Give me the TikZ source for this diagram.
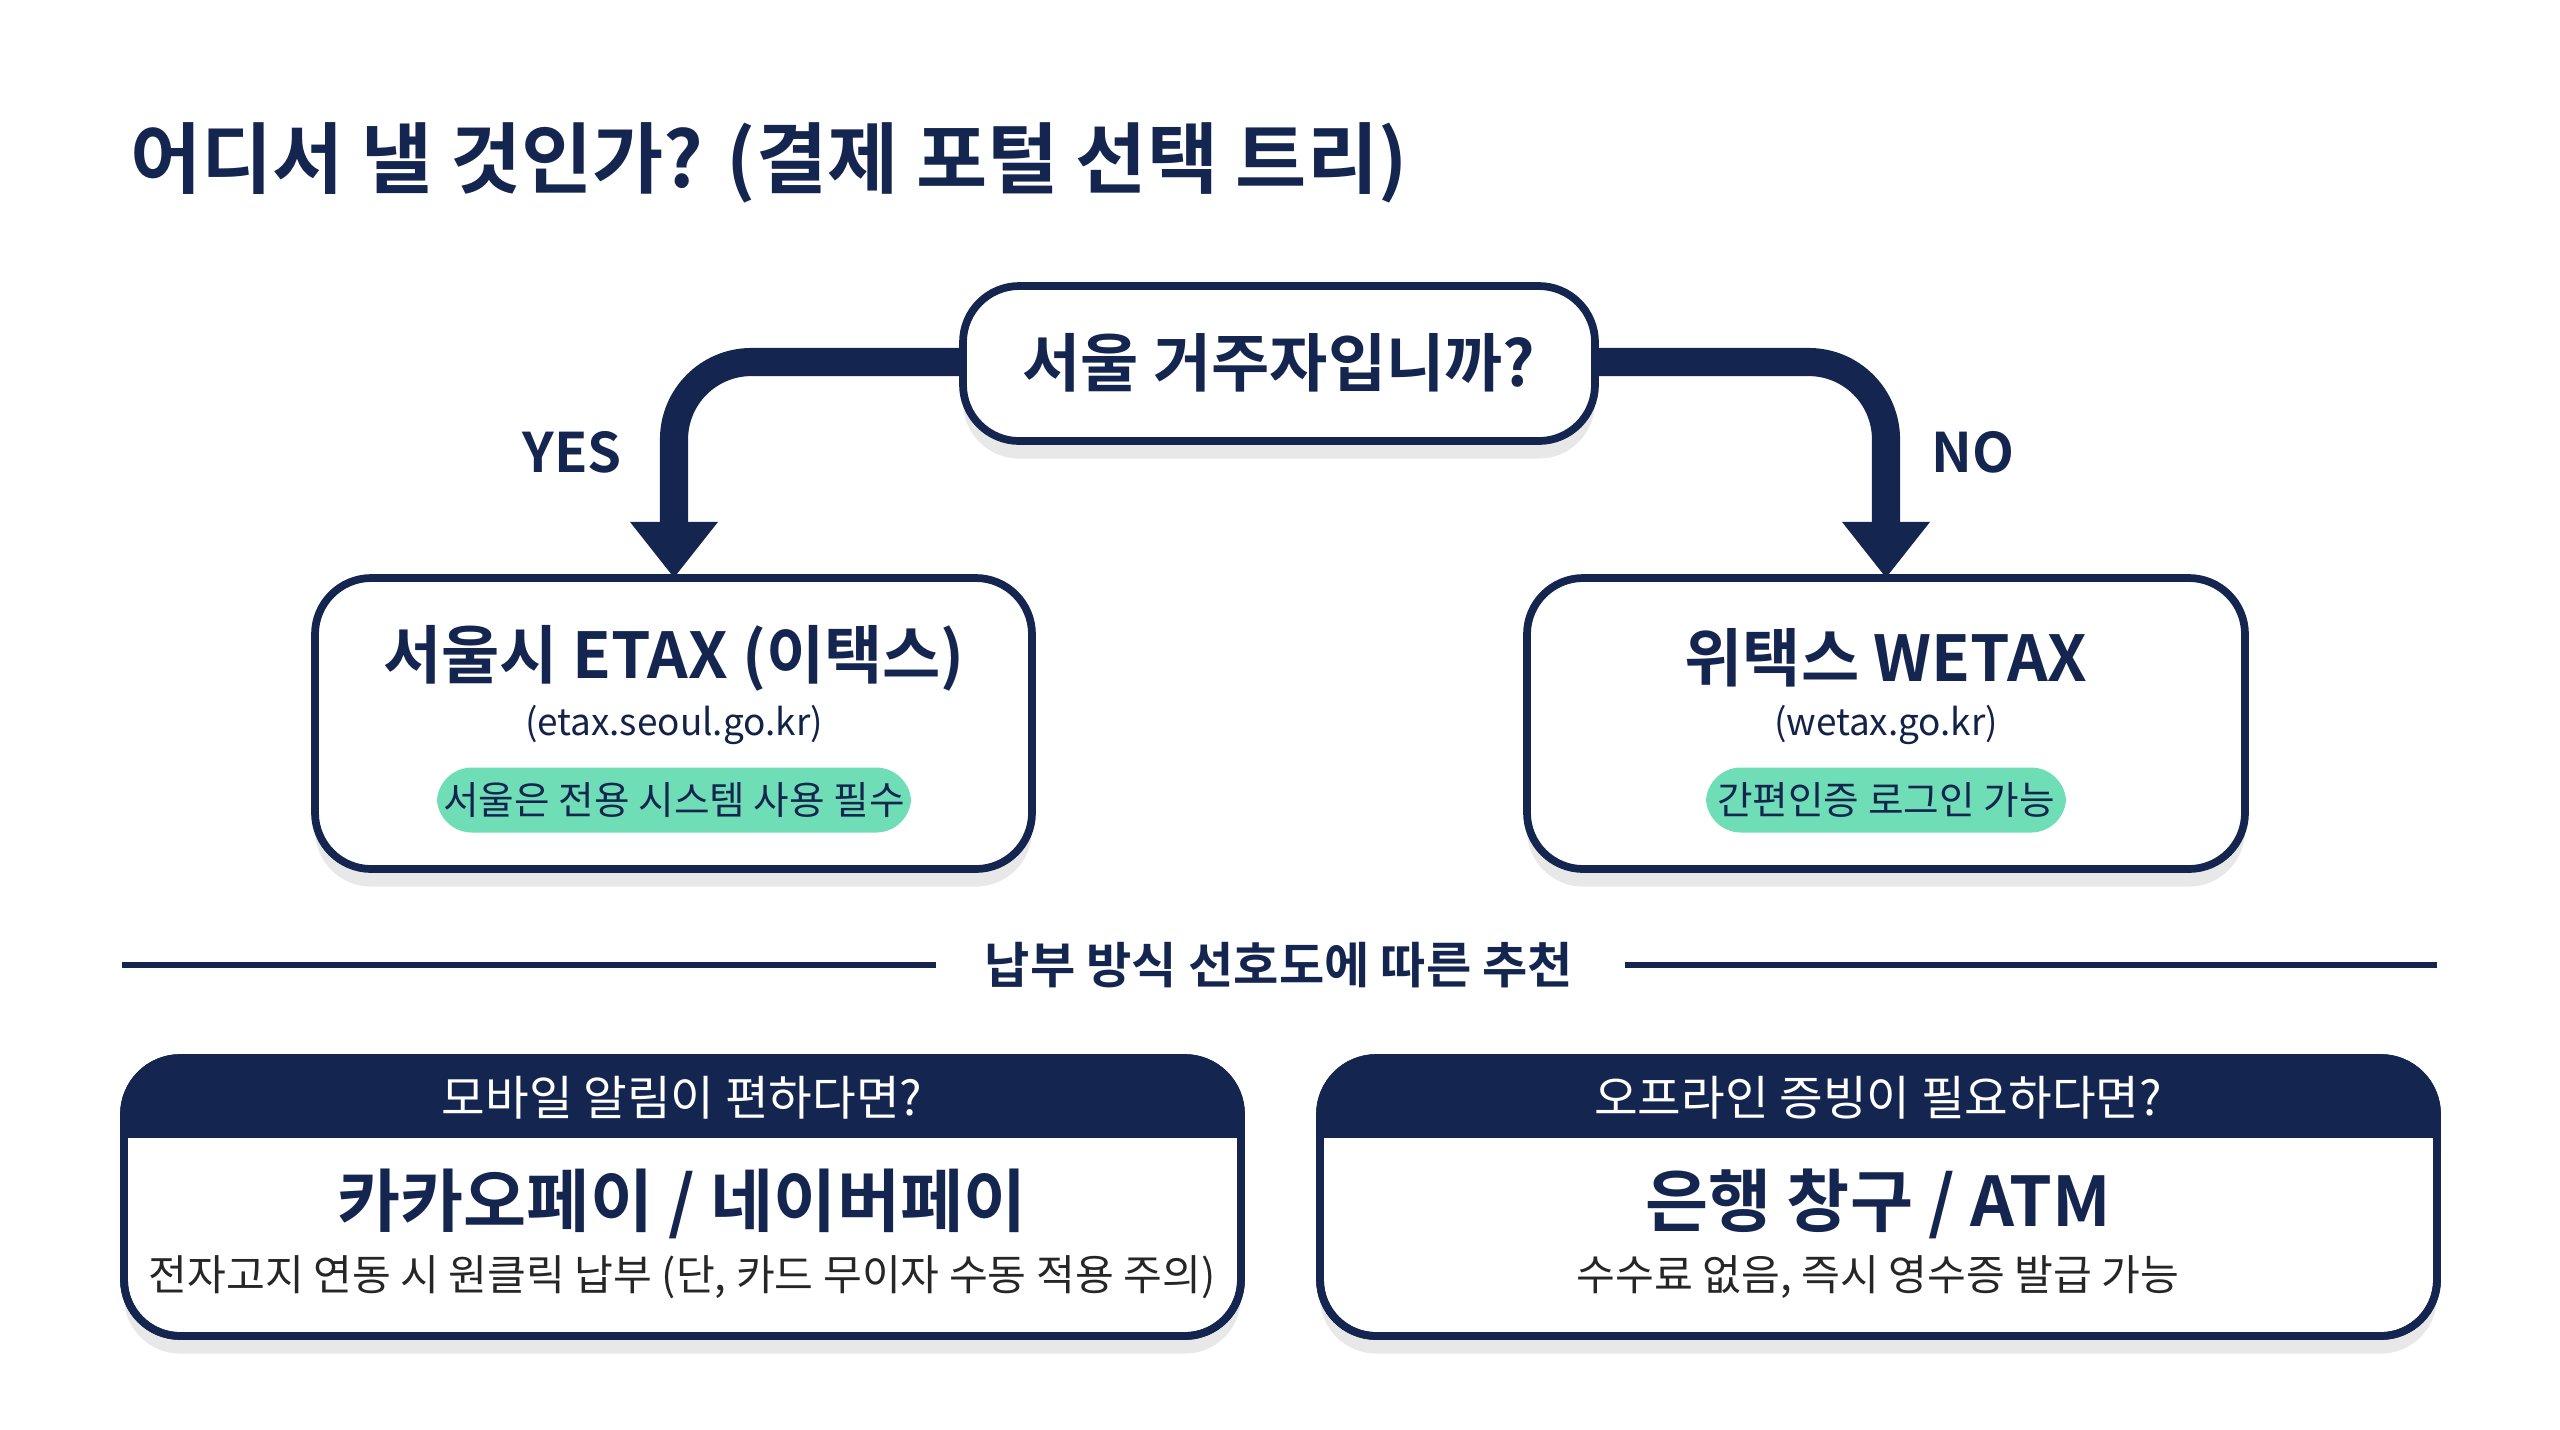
\documentclass[tikz,border=0pt]{standalone}
\usepackage{fontspec}
\setmainfont{Noto Sans CJK KR}
\newfontfamily\kb{Noto Sans CJK KR Bold}
\usetikzlibrary{shadows,arrows.meta}
\definecolor{navy}{RGB}{20,38,80}
\definecolor{mint}{RGB}{111,221,181}
\begin{document}
\begin{tikzpicture}[x=0.01cm,y=-0.01cm,
  card/.style={draw=navy,line width=2.2pt,rounded corners=16pt,fill=white,
    drop shadow={shadow xshift=0pt,shadow yshift=-5pt,opacity=0.18}},
  flow/.style={navy,line width=8pt,rounded corners=22pt,-{Triangle[width=24pt,length=16pt]}},
  pill/.style={fill=mint,rounded corners=10pt,text=navy,inner sep=0pt},
  lbl/.style={text=navy,font=\kb\fontsize{15.5}{18}\selectfont},
  hd/.style={text=white,font=\fontsize{13.5}{16}\selectfont},
  mn/.style={text=navy,font=\kb\fontsize{19.5}{23}\selectfont},
  sb/.style={text=black!85,font=\fontsize{12}{14}\selectfont}]
\useasboundingbox (0,0) rectangle (2560,1429);
\fill[white] (0,0) rectangle (2560,1429);
\node[anchor=west,text=navy,font=\kb\fontsize{22}{27}\selectfont] (title) at (118,163) {어디서 낼 것인가? (결제 포털 선택 트리)};
% question
\draw[card] (963,286) rectangle (1595,441);
\node[text=navy,font=\kb\fontsize{18}{22}\selectfont] (q) at (1279,363) {서울 거주자입니까?};
\coordinate (ql) at (963,362); \coordinate (qr) at (1595,362);
% boxes
\draw[card] (315,578) rectangle (1032,869);
\draw[card] (1527,578) rectangle (2245,869);
\coordinate (lt) at (674,578); \coordinate (rt) at (1886,578);
\draw[flow] (ql) -| (lt);
\draw[flow] (qr) -| (rt);
\node[lbl] (yes) at (572,452) {YES};
\node[lbl] (no) at (1973,452) {NO};
\node[text=navy,font=\kb\fontsize{18}{22}\selectfont] (etax) at (674,658) {서울시 ETAX (이택스)};
\node[text=navy!90!black,font=\fontsize{10.5}{13}\selectfont] (eurl) at (674,725) {(etax.seoul.go.kr)};
\node[pill,minimum width=4.74cm,minimum height=0.65cm,font=\fontsize{11}{13}\selectfont] (ep) at (674,800) {서울은 전용 시스템 사용 필수};
\node[text=navy,font=\kb\fontsize{18}{22}\selectfont] (wetax) at (1886,658) {위택스 WETAX};
\node[text=navy!90!black,font=\fontsize{10.5}{13}\selectfont] (wurl) at (1886,725) {(wetax.go.kr)};
\node[pill,minimum width=3.6cm,minimum height=0.65cm,font=\fontsize{11}{13}\selectfont] (wp) at (1886,800) {간편인증 로그인 가능};
% divider
\node[text=navy,font=\kb\fontsize{14}{17}\selectfont] (div) at (1279,965) {납부 방식 선호도에 따른 추천};
\coordinate (d1) at (122,965); \coordinate (d1e) at (936,965);
\coordinate (d2s) at (1625,965); \coordinate (d2) at (2437,965);
\draw[navy,line width=1.6pt] (d1) -- (d1e);
\draw[navy,line width=1.6pt] (d2s) -- (d2);
% bottom cards
\foreach \xa/\xb in {124/1241,1320/2437}{
  \draw[card] (\xa,1058) rectangle (\xb,1336);
  \begin{scope}
  \clip[rounded corners=16pt] (\xa,1058) rectangle (\xb,1336);
  \fill[navy] (\xa,1058) rectangle (\xb,1138);
  \end{scope}
  \draw[navy,line width=2.2pt,rounded corners=16pt] (\xa,1058) rectangle (\xb,1336);
}
\node[hd] (ha) at (682,1098) {모바일 알림이 편하다면?};
\node[mn] (ma) at (682,1204) {카카오페이 / 네이버페이};
\node[sb] (sa) at (682,1277) {전자고지 연동 시 원클릭 납부 (단, 카드 무이자 수동 적용 주의)};
\node[hd] (hb) at (1878,1098) {오프라인 증빙이 필요하다면?};
\node[mn] (mb) at (1878,1204) {은행 창구 / ATM};
\node[sb] (sb) at (1878,1277) {수수료 없음, 즉시 영수증 발급 가능};
\end{tikzpicture}
\end{document}
